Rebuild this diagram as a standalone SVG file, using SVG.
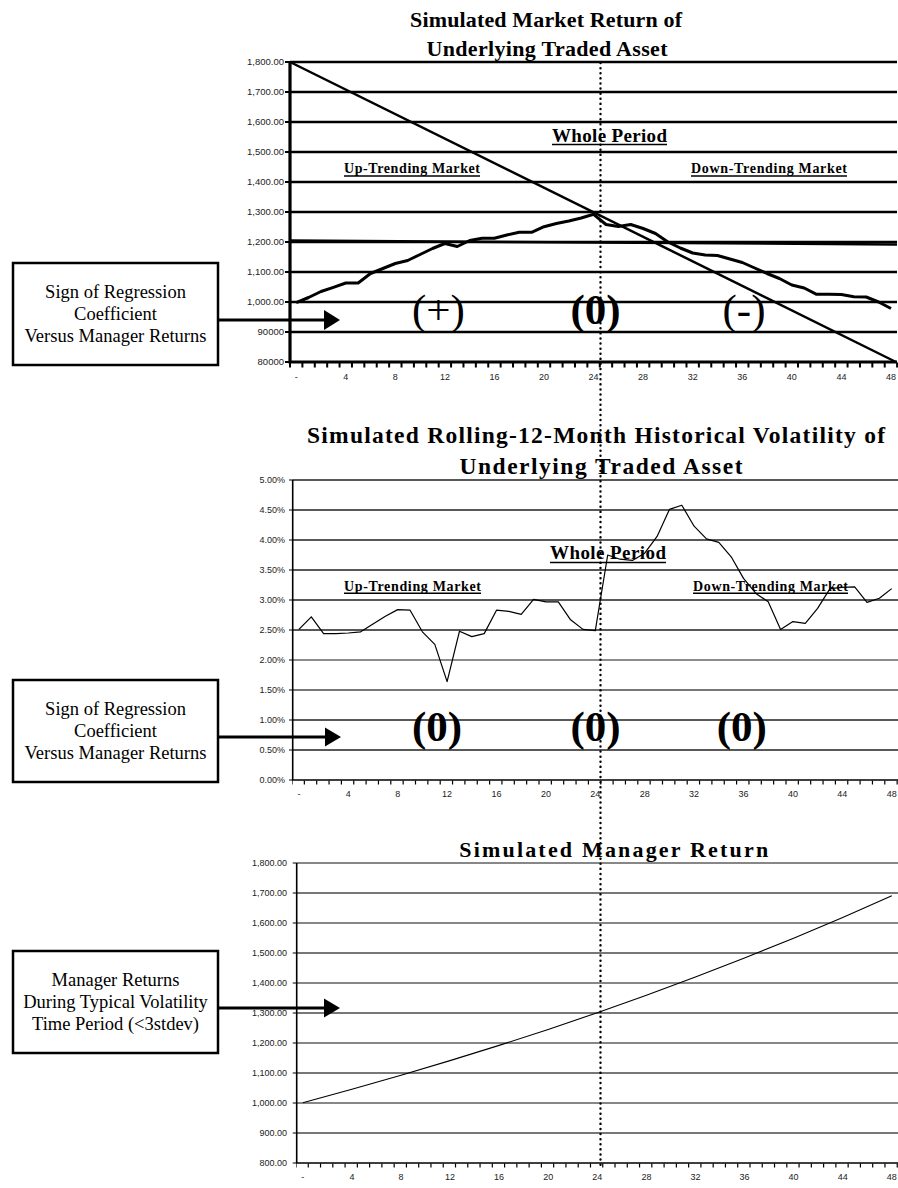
<svg xmlns="http://www.w3.org/2000/svg" width="898" height="1188" viewBox="0 0 898 1188">
<style>
.title{font-family:"Liberation Serif","Times New Roman",serif;font-weight:bold;font-size:22px;text-anchor:middle;fill:#000}
.t2{font-size:23.5px}
.sub{font-family:"Liberation Serif","Times New Roman",serif;font-weight:bold;font-size:14px;fill:#000}
.whole{font-family:"Liberation Serif","Times New Roman",serif;font-weight:bold;font-size:19px;fill:#000}
.big{font-family:"Liberation Serif","Times New Roman",serif;font-size:43px;text-anchor:middle;fill:#000}
.bigb{font-weight:bold}
.ax{font-family:"Liberation Sans",Arial,sans-serif;font-size:9px;fill:#222}
.axt{font-size:9.5px}
.axr{text-anchor:end}
.axc{text-anchor:middle}
.box{font-family:"Liberation Serif","Times New Roman",serif;font-size:18.5px;text-anchor:middle;fill:#000}
.boxr{fill:#fff;stroke:#000;stroke-width:2.5}
.ul{stroke:#000;stroke-width:1.5}
.conn{stroke:#000;stroke-width:3;fill:none}
</style>

<!-- ===== Chart 1: Market Return ===== -->
<g id="chart-market">
  <text class="title" x="546" y="27" textLength="272">Simulated Market Return of</text>
  <text class="title" x="547" y="55.5" textLength="241">Underlying Traded Asset</text>
  <g stroke="#000" stroke-width="2.5">
    <path d="M290 62H897M290 92H897M290 122H897M290 152H897M290 182H897M290 212H897M290 242H897M290 272H897M290 302H897M290 332H897"/>
  </g>
  <path d="M285 62h5M285 92h5M285 122h5M285 152h5M285 182h5M285 212h5M285 242h5M285 272h5M285 302h5M285 332h5M285 362h5" stroke="#000" stroke-width="2"/>
  <line x1="289" y1="365" x2="898" y2="365" stroke="#000" stroke-width="5" stroke-dasharray="2 10.39" stroke-dashoffset="-12.4"/>
  <path d="M290 61V362H897" stroke="#000" stroke-width="3.2" fill="none"/>
  <g class="ax axt axr">
    <text x="284" y="65">1,800.00</text>
    <text x="284" y="95">1,700.00</text>
    <text x="284" y="125">1,600.00</text>
    <text x="284" y="155">1,500.00</text>
    <text x="284" y="185">1,400.00</text>
    <text x="284" y="215">1,300.00</text>
    <text x="284" y="245">1,200.00</text>
    <text x="284" y="275">1,100.00</text>
    <text x="284" y="305">1,000.00</text>
    <text x="284" y="335">90000</text>
    <text x="284" y="365">80000</text>
  </g>
  <g class="ax axc">
    <text x="296.2" y="380">-</text>
    <text x="345.8" y="380">4</text>
    <text x="395.3" y="380">8</text>
    <text x="444.9" y="380">12</text>
    <text x="494.4" y="380">16</text>
    <text x="544" y="380">20</text>
    <text x="593.6" y="380">24</text>
    <text x="643.1" y="380">28</text>
    <text x="692.7" y="380">32</text>
    <text x="742.3" y="380">36</text>
    <text x="791.8" y="380">40</text>
    <text x="841.4" y="380">44</text>
    <text x="891" y="380">48</text>
  </g>
  <line x1="290" y1="62" x2="896" y2="362" stroke="#000" stroke-width="2.5"/>
  <line x1="290" y1="240.5" x2="897" y2="244.5" stroke="#000" stroke-width="2.5"/>
  <polyline fill="none" stroke="#000" stroke-width="3" stroke-linejoin="round" points="296.2,302.7 308.6,297.5 321,291.5 333.4,287.3 345.8,283 358.2,283 370.5,273.5 382.9,268.5 395.3,263.5 407.7,260.5 420.1,254.5 432.5,248.5 444.9,243.5 457.3,246.5 469.7,240.5 482.1,238.3 494.4,238.3 506.8,235 519.2,232.3 531.6,232.3 544,226.7 556.4,223.5 568.8,221 581.2,218 593.6,214.3 606,224.5 618.4,226.5 630.7,224.5 643.1,228.5 655.5,233.5 667.9,242 680.3,248 692.7,253 705.1,255 717.5,255.5 729.9,259 742.3,262.5 754.7,268 767,273.5 779.4,278.5 791.8,285 804.2,288 816.6,294.3 829,294.3 841.4,294.5 853.8,296.7 866.2,297 878.6,302 891,308.5"/>
  <text class="whole" x="552" y="142" textLength="115">Whole Period</text>
  <line class="ul" x1="552" y1="144.5" x2="667" y2="144.5"/>
  <text class="sub" x="344" y="173.3" textLength="136">Up-Trending Market</text>
  <line class="ul" x1="344" y1="176" x2="480" y2="176"/>
  <text class="sub" x="691" y="173.3" textLength="156">Down-Trending Market</text>
  <line class="ul" x1="691" y1="176" x2="847" y2="176"/>
  <text class="big" x="438.5" y="324">(+)</text>
  <text class="big bigb" x="595.5" y="324">(0)</text>
  <text class="big" x="744" y="324">(-)</text>
</g>

<!-- ===== Chart 2: Volatility ===== -->
<g id="chart-volatility">
  <text class="title t2" x="596" y="443" textLength="578">Simulated Rolling-12-Month Historical Volatility of</text>
  <text class="title t2" x="601" y="474" textLength="283">Underlying Traded Asset</text>
  <path d="M292.7 480H898M292.7 510H898M292.7 540H898M292.7 570H898M292.7 600H898M292.7 630H898M292.7 720H898M292.7 750H898" stroke="#222" stroke-width="1.3"/>
  <path d="M292.7 660H898" stroke="#666" stroke-width="1.5"/>
  <path d="M292.7 690H898" stroke="#777" stroke-width="2"/>
  <path d="M289 480h4M289 510h4M289 540h4M289 570h4M289 600h4M289 630h4M289 660h4M289 690h4M289 720h4M289 750h4M289 780h4" stroke="#000" stroke-width="1.2"/>
  <line x1="292" y1="782.5" x2="898" y2="782.5" stroke="#000" stroke-width="4" stroke-dasharray="1.2 11.15" stroke-dashoffset="-11.75"/>
  <path d="M292.7 480V780H898" stroke="#000" stroke-width="1.6" fill="none"/>
  <g class="ax axr">
    <text x="285" y="483">5.00%</text>
    <text x="285" y="513">4.50%</text>
    <text x="285" y="543">4.00%</text>
    <text x="285" y="573">3.50%</text>
    <text x="285" y="603">3.00%</text>
    <text x="285" y="633">2.50%</text>
    <text x="285" y="663">2.00%</text>
    <text x="285" y="693">1.50%</text>
    <text x="285" y="723">1.00%</text>
    <text x="285" y="753">0.50%</text>
    <text x="285" y="783">0.00%</text>
  </g>
  <g class="ax axc">
    <text x="298.9" y="797">-</text>
    <text x="348.3" y="797">4</text>
    <text x="397.7" y="797">8</text>
    <text x="447.1" y="797">12</text>
    <text x="496.5" y="797">16</text>
    <text x="545.9" y="797">20</text>
    <text x="595.3" y="797">24</text>
    <text x="644.7" y="797">28</text>
    <text x="694.1" y="797">32</text>
    <text x="743.5" y="797">36</text>
    <text x="792.9" y="797">40</text>
    <text x="842.3" y="797">44</text>
    <text x="891.7" y="797">48</text>
  </g>
  <polyline fill="none" stroke="#000" stroke-width="1.2" stroke-linejoin="round" points="298.9,629.4 311.3,616.8 323.6,633.6 336,633.6 348.3,633 360.7,631.8 373,624 385.4,616.2 397.7,609.6 410.1,610.2 422.4,631.8 434.8,644.4 447.1,681.6 459.5,631.2 471.8,636.6 484.2,633.6 496.5,610.2 508.9,611.4 521.2,614.4 533.6,599.4 545.9,601.8 558.3,601.8 570.6,619.8 583,629.4 595.3,630.6 607.7,555 620,559.2 632.4,560.4 644.7,553.2 657.1,536.4 669.4,509.4 681.8,505.2 694.1,526.2 706.5,538.8 718.8,542.4 731.2,556.8 743.5,578.4 755.9,593.4 768.2,601.8 780.6,629.4 792.9,621.6 805.3,623.4 817.6,608.4 830,588.6 842.3,587.4 854.7,586.8 867,602.4 879.4,598.2 891.7,588.6"/>
  <text class="whole" x="550" y="559.3" textLength="116">Whole Period</text>
  <line class="ul" x1="550" y1="562.5" x2="666" y2="562.5"/>
  <text class="sub" x="344" y="590.7" textLength="137">Up-Trending Market</text>
  <line class="ul" x1="344" y1="593.2" x2="481" y2="593.2"/>
  <text class="sub" x="693" y="590.7" textLength="155">Down-Trending Market</text>
  <line class="ul" x1="693" y1="593.2" x2="848" y2="593.2"/>
  <text class="big bigb" x="437" y="741">(0)</text>
  <text class="big bigb" x="595.5" y="741">(0)</text>
  <text class="big bigb" x="741.7" y="741">(0)</text>
</g>

<!-- ===== Chart 3: Manager Return ===== -->
<g id="chart-manager">
  <text class="title" x="613.7" y="857" textLength="309">Simulated Manager Return</text>
  <path d="M296.7 863H898M296.7 923H898M296.7 983H898M296.7 1043H898M296.7 1103H898" stroke="#111" stroke-width="1.1"/>
  <path d="M296.7 893H898M296.7 953H898M296.7 1013H898M296.7 1073H898M296.7 1133H898" stroke="#777" stroke-width="1.8"/>
  <path d="M292.7 863h4M292.7 893h4M292.7 923h4M292.7 953h4M292.7 983h4M292.7 1013h4M292.7 1043h4M292.7 1073h4M292.7 1103h4M292.7 1133h4M292.7 1163h4" stroke="#000" stroke-width="1.2"/>
  <line x1="296" y1="1165.5" x2="898" y2="1165.5" stroke="#000" stroke-width="4" stroke-dasharray="1.2 11.07" stroke-dashoffset="-11.67"/>
  <path d="M296.7 863V1163H898" stroke="#000" stroke-width="1.6" fill="none"/>
  <g class="ax axr">
    <text x="287" y="866">1,800.00</text>
    <text x="287" y="896">1,700.00</text>
    <text x="287" y="926">1,600.00</text>
    <text x="287" y="956">1,500.00</text>
    <text x="287" y="986">1,400.00</text>
    <text x="287" y="1016">1,300.00</text>
    <text x="287" y="1046">1,200.00</text>
    <text x="287" y="1076">1,100.00</text>
    <text x="287" y="1106">1,000.00</text>
    <text x="287" y="1136">900.00</text>
    <text x="287" y="1166">800.00</text>
  </g>
  <g class="ax axc">
    <text x="302.8" y="1180">-</text>
    <text x="351.9" y="1180">4</text>
    <text x="401" y="1180">8</text>
    <text x="450" y="1180">12</text>
    <text x="499.1" y="1180">16</text>
    <text x="548.2" y="1180">20</text>
    <text x="597.3" y="1180">24</text>
    <text x="646.4" y="1180">28</text>
    <text x="695.4" y="1180">32</text>
    <text x="744.5" y="1180">36</text>
    <text x="793.6" y="1180">40</text>
    <text x="842.7" y="1180">44</text>
    <text x="891.8" y="1180">48</text>
  </g>
  <polyline fill="none" stroke="#000" stroke-width="1.1" points="302.8,1102.7 351.9,1089.3 401,1075.3 450,1060.6 499.1,1045.4 548.2,1029.4 597.3,1012.7 646.4,995.3 695.4,977.1 744.5,958 793.6,938.2 842.7,917.4 891.8,895.7"/>
</g>

<!-- dotted mid-period divider -->
<line id="divider" x1="600.5" y1="63" x2="600.5" y2="1166" stroke="#000" stroke-width="2.4" stroke-linecap="round" stroke-dasharray="0.1 5"/>

<!-- ===== Boxes ===== -->
<g id="box-sign-1">
  <rect class="boxr" x="13" y="263" width="205" height="102"/>
  <text class="box" x="115.5" y="297.5">Sign of Regression</text>
  <text class="box" x="115.5" y="319.5">Coefficient</text>
  <text class="box" x="115.5" y="341.5">Versus Manager Returns</text>
</g>
<g id="box-sign-2">
  <rect class="boxr" x="13" y="680" width="205" height="102"/>
  <text class="box" x="115.5" y="714.5">Sign of Regression</text>
  <text class="box" x="115.5" y="736.5">Coefficient</text>
  <text class="box" x="115.5" y="758.5">Versus Manager Returns</text>
</g>
<g id="box-manager">
  <rect class="boxr" x="13" y="951" width="205" height="102"/>
  <text class="box" x="115.5" y="985.5">Manager Returns</text>
  <text class="box" x="115.5" y="1007.5">During Typical Volatility</text>
  <text class="box" x="115.5" y="1029.5">Time Period (&lt;3stdev)</text>
</g>

<!-- ===== Connectors ===== -->
<g id="connectors">
  <line class="conn" x1="218" y1="320" x2="325" y2="320"/>
  <polygon points="324,310 340,320 324,330" fill="#000"/>
  <line class="conn" x1="218" y1="737" x2="326" y2="737"/>
  <polygon points="325,727.5 341,737 325,746.5" fill="#000"/>
  <line class="conn" x1="218" y1="1008" x2="325" y2="1008"/>
  <polygon points="324,998.5 340,1008 324,1017.5" fill="#000"/>
</g>
</svg>
